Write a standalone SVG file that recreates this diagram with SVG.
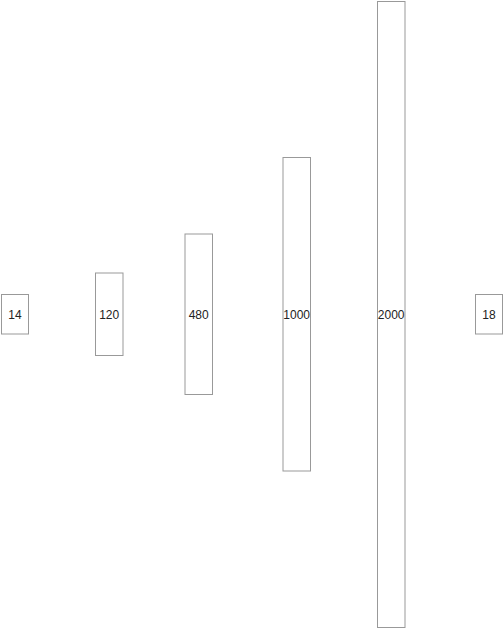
<svg xmlns="http://www.w3.org/2000/svg" width="504" height="629" viewBox="0 0 504 629">
<style>
.n rect{fill:#fff;stroke:#999;stroke-width:1}
.n text{font-family:"Liberation Sans",Arial,sans-serif;font-size:12px;fill:#222;text-anchor:middle;dominant-baseline:central}
</style>
<rect width="504" height="629" fill="#fff"/>
<g id="connectors"></g>
<g id="n14" class="n"><rect x="1.5" y="294.5" width="27" height="39.5"/><text x="15" y="314.5">14</text></g>
<g id="n120" class="n"><rect x="95.5" y="273" width="27.5" height="82.5"/><text x="109.2" y="314.5">120</text></g>
<g id="n480" class="n"><rect x="185" y="234" width="27.5" height="160.5"/><text x="198.7" y="314.5">480</text></g>
<g id="n1000" class="n"><rect x="283" y="157.5" width="27.5" height="313.5"/><text x="296.7" y="314.5">1000</text></g>
<g id="n2000" class="n"><rect x="377.5" y="1.5" width="27.5" height="626"/><text x="391.2" y="314.5">2000</text></g>
<g id="n18" class="n"><rect x="475.5" y="294.5" width="27" height="39.5"/><text x="489" y="314.5">18</text></g>
</svg>
